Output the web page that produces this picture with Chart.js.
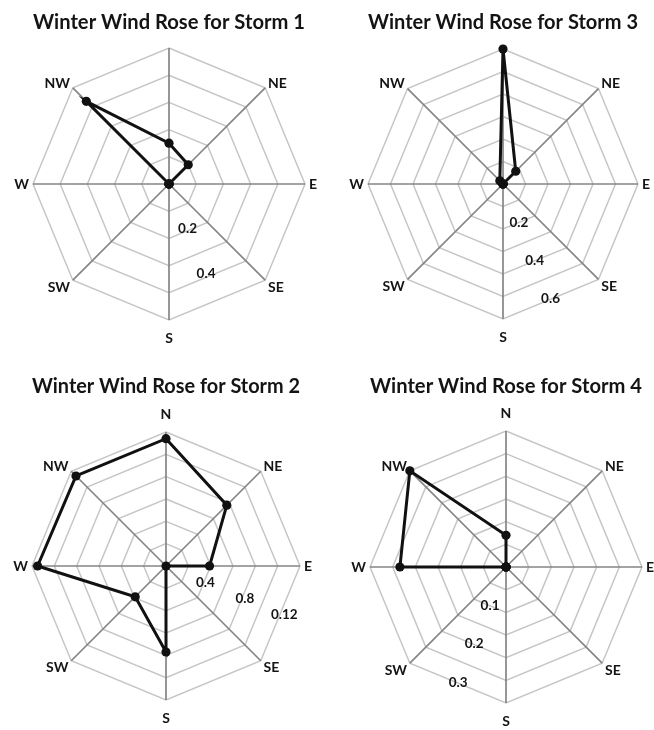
<!DOCTYPE html>
<html>
<head>
<meta charset="utf-8">
<script src="https://cdn.jsdelivr.net/npm/chart.js@4.4.1/dist/chart.umd.min.js"></script>
<style>
  html, body { margin: 0; padding: 0; background: #ffffff; }
  body { width: 654px; height: 730px; position: relative; overflow: hidden; }
  canvas { position: absolute; }
</style>
</head>
<body>
<canvas id="c1" width="327" height="365" style="left:0px;top:0px"></canvas>
<canvas id="c3" width="327" height="365" style="left:327px;top:0px"></canvas>
<canvas id="c2" width="327" height="365" style="left:0px;top:365px"></canvas>
<canvas id="c4" width="327" height="365" style="left:327px;top:365px"></canvas>
<script>
// ---------- data ----------
const directions = ['N', 'NE', 'E', 'SE', 'S', 'SW', 'W', 'NW'];

const storm1 = [0.15, 0.10, 0, 0, 0, 0, 0, 0.43];
const storm2 = [0.114, 0.077, 0.039, 0, 0.077, 0.039, 0.115, 0.114];
const storm3 = [0.60, 0.08, 0, 0, 0, 0, 0, 0.02];
const storm4 = [0.07, 0, 0, 0, 0, 0, 0.234, 0.30];

const storm1TickValues = [0.2, 0.4];
const storm1TickLabels = ['0.2', '0.4'];
const storm2TickValues = [0.04, 0.08, 0.12];
const storm2TickLabels = ['0.4', '0.8', '0.12'];
const storm3TickValues = [0.2, 0.4, 0.6];
const storm3TickLabels = ['0.2', '0.4', '0.6'];
const storm4TickValues = [0.1, 0.2, 0.3];
const storm4TickLabels = ['0.1', '0.2', '0.3'];

// ---------- style ----------
const FONT = 'Lato, "Open Sans", "DejaVu Sans", sans-serif';
const TEXT_COLOR = '#141414';

function fitFontSize(text, targetWidth, weight) {
  const c = document.createElement('canvas').getContext('2d');
  c.font = weight + ' 20px ' + FONT;
  return 20 * targetWidth / c.measureText(text).width;
}
const titleSize = fitFontSize('Winter Wind Rose for Storm 1', 282, 'bold');

// draws direction labels and the hand-placed value labels using the radial scale
const roseLabels = {
  id: 'roseLabels',
  afterDraw(chart, args, opts) {
    const s = chart.scales.r;
    const ctx = chart.ctx;
    const R = s.drawingArea;
    ctx.save();
    ctx.fillStyle = TEXT_COLOR;
    ctx.textBaseline = 'middle';
    ctx.font = 'bold 14px ' + FONT;
    s._pointLabels.forEach((lab, i) => {
      if ((opts.hide || []).includes(i)) return;
      const a = s.getIndexAngle(i);
      const dx = Math.sin(a), dy = -Math.cos(a);
      if (Math.abs(dx) < 0.01) {
        const p = s.getPointPosition(i, R + 18);
        ctx.textAlign = 'center';
        ctx.fillText(lab, p.x, p.y);
      } else {
        const p = s.getPointPosition(i, R + (Math.abs(dy) < 0.01 ? 4 : 4));
        ctx.textAlign = dx > 0 ? 'left' : 'right';
        const yOff = Math.abs(dy) < 0.01 ? 0 : (dy > 0 ? 4 : -2);
        ctx.fillText(lab, p.x, p.y + yOff);
      }
    });
    ctx.font = 'bold 13.5px ' + FONT;
    ctx.textAlign = 'center';
    (opts.tickValues || []).forEach((v, k) => {
      const p = s.getPointPosition(opts.tickIndex, s.getDistanceFromCenterForValue(v) * opts.tickRatio);
      ctx.fillText(opts.tickLabels[k], p.x, p.y);
    });
    ctx.restore();
  }
};

function makeRose(id, title, values, max, step, layout, labelOpts) {
  const lh = titleSize * 1.2;
  const padTop = layout.titleY - lh / 2;
  const padBottom = layout.top - padTop - lh;
  return new Chart(document.getElementById(id), {
    type: 'radar',
    data: {
      labels: directions,
      datasets: [{
        data: values,
        borderColor: '#111111',
        borderWidth: 3,
        pointRadius: 4.6,
        pointBackgroundColor: '#111111',
        pointBorderColor: '#111111',
        pointBorderWidth: 0,
        fill: false,
        tension: 0,
        clip: false
      }]
    },
    options: {
      responsive: false,
      animation: false,
      events: [],
      layout: { padding: { left: layout.left, right: layout.right, top: 0, bottom: layout.bottom } },
      plugins: {
        legend: { display: false },
        tooltip: { enabled: false },
        title: {
          display: true,
          text: title,
          color: TEXT_COLOR,
          font: { family: FONT, size: titleSize, weight: 'bold', lineHeight: 1.2 },
          padding: { top: padTop, bottom: padBottom }
        },
        roseLabels: labelOpts
      },
      scales: {
        r: {
          min: 0,
          max: max,
          startAngle: 0,
          ticks: { display: false, stepSize: step },
          grid: { color: '#c6c6c6', lineWidth: 1.5 },
          angleLines: { color: '#858585', lineWidth: 1.7 },
          pointLabels: { display: false }
        }
      }
    },
    plugins: [roseLabels]
  });
}

makeRose('c1', 'Winter Wind Rose for Storm 1', storm1, 0.5, 0.1,
  { left: 33, right: 22, top: 48, bottom: 45, titleY: 22 },
  { hide: [0], tickValues: storm1TickValues, tickLabels: storm1TickLabels, tickIndex: 3.5, tickRatio: 0.89 });

makeRose('c3', 'Winter Wind Rose for Storm 3', storm3, 0.6, 0.1,
  { left: 41, right: 16, top: 49, bottom: 46, titleY: 22 },
  { hide: [0], tickValues: storm3TickValues, tickLabels: storm3TickLabels, tickIndex: 3.5, tickRatio: 0.92 });

makeRose('c2', 'Winter Wind Rose for Storm 2', storm2, 0.12, 0.02,
  { left: 32, right: 27, top: 67, bottom: 30, titleY: 21 },
  { hide: [], tickValues: storm2TickValues, tickLabels: storm2TickLabels, tickIndex: 2.5, tickRatio: 0.955 });

makeRose('c4', 'Winter Wind Rose for Storm 4', storm4, 0.3, 0.05,
  { left: 43, right: 12, top: 66, bottom: 27, titleY: 21 },
  { hide: [], tickValues: storm4TickValues, tickLabels: storm4TickLabels, tickIndex: 4.5, tickRatio: 0.92 });
</script>
</body>
</html>
